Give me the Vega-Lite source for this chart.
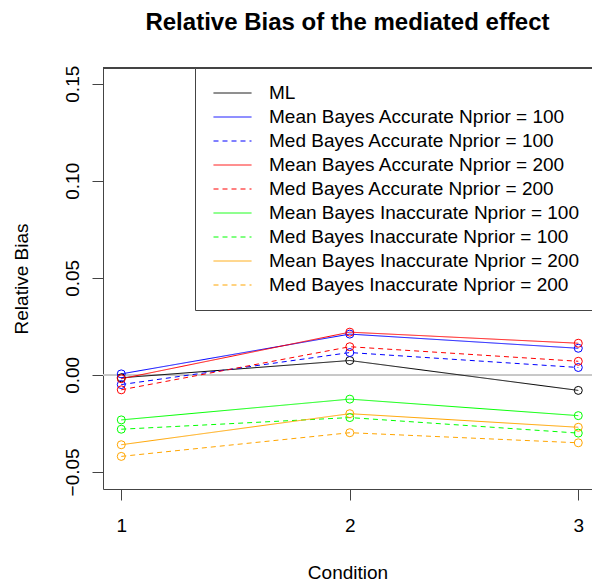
{
  "$schema": "https://vega.github.io/schema/vega-lite/v6.json",
  "width": 489,
  "height": 421,
  "autosize": "none",
  "padding": {"left": 103, "top": 68, "right": 0, "bottom": 99},
  "background": "white",
  "config": {"view": {"stroke": null}, "font": "Liberation Sans"},
  "title": {"text": "Relative Bias of the mediated effect", "font": "Liberation Sans", "fontSize": 24, "fontWeight": "bold", "color": "black", "anchor": "middle", "offset": 30},
  "data": {"values": [
    {"series": "ML", "condition": 1, "bias": -0.0015},
    {"series": "ML", "condition": 2, "bias": 0.0074},
    {"series": "ML", "condition": 3, "bias": -0.008},
    {"series": "Mean Bayes Accurate Nprior = 100", "condition": 1, "bias": 0.0005},
    {"series": "Mean Bayes Accurate Nprior = 100", "condition": 2, "bias": 0.021},
    {"series": "Mean Bayes Accurate Nprior = 100", "condition": 3, "bias": 0.0137},
    {"series": "Med Bayes Accurate Nprior = 100", "condition": 1, "bias": -0.005},
    {"series": "Med Bayes Accurate Nprior = 100", "condition": 2, "bias": 0.0115},
    {"series": "Med Bayes Accurate Nprior = 100", "condition": 3, "bias": 0.0038},
    {"series": "Mean Bayes Accurate Nprior = 200", "condition": 1, "bias": -0.002},
    {"series": "Mean Bayes Accurate Nprior = 200", "condition": 2, "bias": 0.022},
    {"series": "Mean Bayes Accurate Nprior = 200", "condition": 3, "bias": 0.0163},
    {"series": "Med Bayes Accurate Nprior = 200", "condition": 1, "bias": -0.0077},
    {"series": "Med Bayes Accurate Nprior = 200", "condition": 2, "bias": 0.0145},
    {"series": "Med Bayes Accurate Nprior = 200", "condition": 3, "bias": 0.007},
    {"series": "Mean Bayes Inaccurate Nprior = 100", "condition": 1, "bias": -0.0232},
    {"series": "Mean Bayes Inaccurate Nprior = 100", "condition": 2, "bias": -0.0125},
    {"series": "Mean Bayes Inaccurate Nprior = 100", "condition": 3, "bias": -0.021},
    {"series": "Med Bayes Inaccurate Nprior = 100", "condition": 1, "bias": -0.028},
    {"series": "Med Bayes Inaccurate Nprior = 100", "condition": 2, "bias": -0.022},
    {"series": "Med Bayes Inaccurate Nprior = 100", "condition": 3, "bias": -0.030},
    {"series": "Mean Bayes Inaccurate Nprior = 200", "condition": 1, "bias": -0.036},
    {"series": "Mean Bayes Inaccurate Nprior = 200", "condition": 2, "bias": -0.020},
    {"series": "Mean Bayes Inaccurate Nprior = 200", "condition": 3, "bias": -0.027},
    {"series": "Med Bayes Inaccurate Nprior = 200", "condition": 1, "bias": -0.042},
    {"series": "Med Bayes Inaccurate Nprior = 200", "condition": 2, "bias": -0.0298},
    {"series": "Med Bayes Inaccurate Nprior = 200", "condition": 3, "bias": -0.035}
  ]},
  "layer": [
    {
      "mark": {"type": "rule", "stroke": "#c8c8c8", "strokeWidth": 1},
      "encoding": {"y": {"datum": 0, "type": "quantitative"}}
    },
    {
      "mark": {"type": "rule", "stroke": "#444444", "strokeWidth": 1},
      "encoding": {"y": {"datum": 0.1581, "type": "quantitative"}}
    },
    {
      "mark": {"type": "line", "strokeWidth": 1},
      "encoding": {
        "x": {"field": "condition", "type": "quantitative",
              "scale": {"domain": [0.92, 3.06], "nice": false, "zero": false},
              "axis": {"values": [1, 2, 3], "format": "d", "title": "Condition", "grid": false,
                       "tickSize": 11, "domainColor": "#444", "tickColor": "#444",
                       "labelFont": "Liberation Sans", "labelFontSize": 19, "labelColor": "black", "labelPadding": 16,
                       "titleFont": "Liberation Sans", "titleFontSize": 19, "titleFontWeight": "normal", "titleColor": "black", "titlePadding": 28}},
        "y": {"field": "bias", "type": "quantitative",
              "scale": {"domain": [-0.0588, 0.1581], "nice": false, "zero": false},
              "axis": {"values": [-0.05, 0, 0.05, 0.1, 0.15], "format": ".2f", "title": "Relative Bias", "grid": false,
                       "tickSize": 11, "domainColor": "#444", "tickColor": "#444",
                       "labelAngle": -90, "labelAlign": "center", "labelBaseline": "alphabetic",
                       "labelFont": "Liberation Sans", "labelFontSize": 19, "labelColor": "black", "labelPadding": 14,
                       "titleFont": "Liberation Sans", "titleFontSize": 19, "titleFontWeight": "normal", "titleColor": "black", "titlePadding": 32}},
        "stroke": {"field": "series", "type": "nominal",
                  "scale": {"domain": ["ML", "Mean Bayes Accurate Nprior = 100", "Med Bayes Accurate Nprior = 100", "Mean Bayes Accurate Nprior = 200", "Med Bayes Accurate Nprior = 200", "Mean Bayes Inaccurate Nprior = 100", "Med Bayes Inaccurate Nprior = 100", "Mean Bayes Inaccurate Nprior = 200", "Med Bayes Inaccurate Nprior = 200"],
                            "range": ["#000000", "#0000ff", "#0000ff", "#ff0000", "#ff0000", "#00ff00", "#00ff00", "#ffa500", "#ffa500"]},
                  "legend": {"orient": "none", "legendX": 92, "legendY": 0, "title": null,
                             "symbolType": "M-0.684,0H3.316", "symbolSize": 361, "symbolStrokeWidth": 1,
                             "labelFont": "Liberation Sans", "labelFontSize": 19, "labelColor": "black", "labelOffset": 39, "labelLimit": 400,
                             "strokeColor": "#444", "fillColor": "white", "padding": 15, "rowPadding": 4,
                             "encode": {"symbols": {"update": {"stroke": {"scale": "stroke", "field": "value"}, "strokeDash": {"scale": "strokeDash", "field": "value"}, "fill": {"value": "transparent"}}}}}},
        "strokeDash": {"field": "series", "type": "nominal", "legend": null,
                       "scale": {"domain": ["ML", "Mean Bayes Accurate Nprior = 100", "Med Bayes Accurate Nprior = 100", "Mean Bayes Accurate Nprior = 200", "Med Bayes Accurate Nprior = 200", "Mean Bayes Inaccurate Nprior = 100", "Med Bayes Inaccurate Nprior = 100", "Mean Bayes Inaccurate Nprior = 200", "Med Bayes Inaccurate Nprior = 200"],
                                 "range": [[1, 0], [1, 0], [5, 4], [1, 0], [5, 4], [1, 0], [5, 4], [1, 0], [5, 4]]}}
      }
    },
    {
      "mark": {"type": "point", "shape": "circle", "filled": false, "size": 64, "strokeWidth": 1, "opacity": 1},
      "encoding": {
        "x": {"field": "condition", "type": "quantitative"},
        "y": {"field": "bias", "type": "quantitative"},
        "stroke": {"field": "series", "type": "nominal"}
      }
    }
  ]
}
